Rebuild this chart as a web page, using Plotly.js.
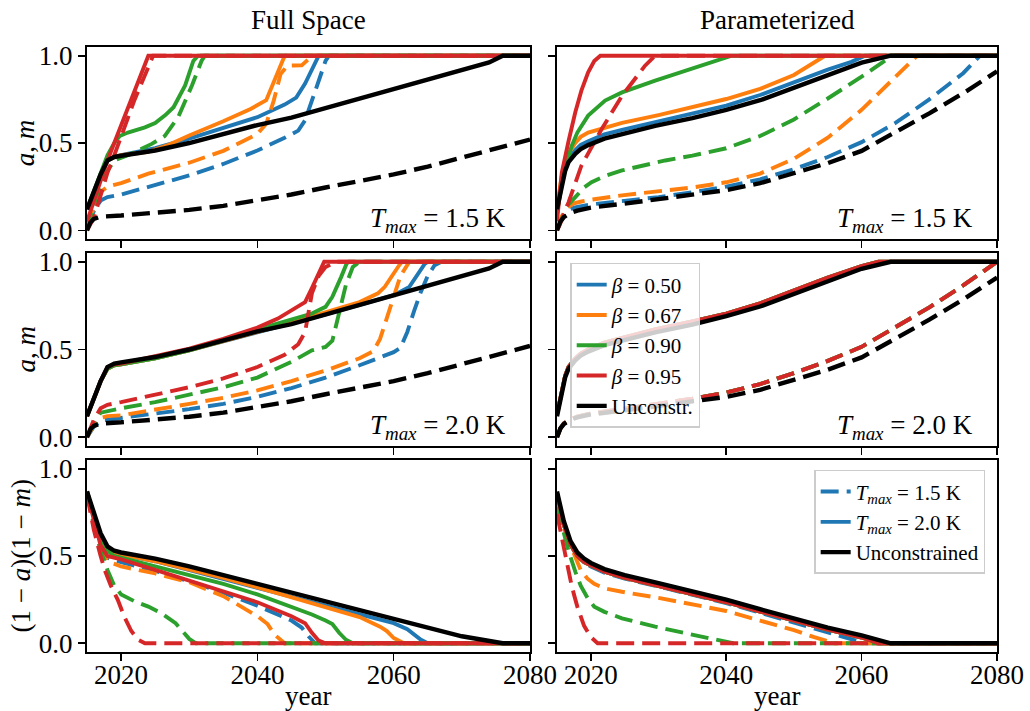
<!DOCTYPE html>
<html>
<head>
<meta charset="utf-8">
<script src="https://cdn.plot.ly/plotly-3.0.1.min.js"></script>
<style>html,body{margin:0;padding:0;background:#fff}#chart{width:1030px;height:711px}</style>
</head>
<body>
<div id="chart"></div>
<script>
// ---------- tick labels / categories ----------
const YEAR_TICKS = [2020, 2040, 2060, 2080];
const VALUE_TICKS = [0, 0.5, 1.0];
const BETA_NAMES = ['<i>β</i> = 0.50', '<i>β</i> = 0.67', '<i>β</i> = 0.90', '<i>β</i> = 0.95'];
const UNC_SHORT = 'Unconstr.';
const TMAX_NAMES = ['<i>T</i><sub><i>max</i></sub> = 1.5 K', '<i>T</i><sub><i>max</i></sub> = 2.0 K', 'Unconstrained'];
const PANEL_TEXTS = ['<i>T</i><sub><i>max</i></sub> = 1.5 K', '<i>T</i><sub><i>max</i></sub> = 2.0 K'];
const COLUMN_TITLES = ['Full Space', 'Parameterized'];

// ---------- Full Space: unconstrained ----------
const FS_UNC_A = [[2015,0.12],[2016,0.22],[2017,0.32],[2018,0.4],[2019,0.42],[2020,0.427],[2025,0.457],[2030,0.5],[2035,0.55],[2040,0.603],[2045,0.645],[2050,0.7],[2055,0.755],[2060,0.812],[2065,0.868],[2070,0.922],[2074,0.962],[2076,1.0],[2080,1.0]];
const FS_UNC_M = [[2015,0.0],[2015.5,0.045],[2016,0.065],[2017,0.078],[2020,0.085],[2025,0.1],[2030,0.117],[2035,0.14],[2040,0.17],[2045,0.205],[2050,0.245],[2055,0.28],[2060,0.32],[2065,0.365],[2070,0.415],[2075,0.465],[2080,0.52]];
const FS_UNC_R = [[2015,0.87],[2016,0.74],[2017,0.63],[2018,0.555],[2019,0.53],[2020,0.52],[2025,0.485],[2030,0.44],[2035,0.39],[2040,0.34],[2045,0.29],[2050,0.238],[2055,0.185],[2060,0.135],[2065,0.085],[2070,0.04],[2073,0.02],[2076,0.0],[2080,0.0]];

// ---------- Full Space, Tmax = 1.5 K (solid a, dashed m) ----------
const FS15_A_B050 = [[2015,0.12],[2016,0.22],[2017,0.32],[2018,0.4],[2019,0.42],[2020,0.43],[2025,0.47],[2030,0.525],[2035,0.585],[2040,0.648],[2044,0.72],[2045.7,0.76],[2047,0.84],[2048.5,0.97],[2049,1.0],[2080,1.0]];
const FS15_A_B067 = [[2015,0.12],[2016,0.22],[2017,0.32],[2018,0.4],[2019,0.42],[2020,0.43],[2024,0.45],[2027,0.49],[2030,0.543],[2035,0.625],[2039,0.695],[2041.3,0.745],[2042.9,0.895],[2043.9,0.99],[2044.2,1.0],[2080,1.0]];
const FS15_A_B090 = [[2015,0.12],[2016,0.22],[2017,0.33],[2018,0.43],[2019,0.5],[2019.8,0.54],[2021,0.56],[2023.5,0.59],[2025,0.615],[2026.5,0.66],[2027.7,0.705],[2029.4,0.83],[2030.6,0.97],[2031.3,1.0],[2080,1.0]];
const FS15_A_B095 = [[2015,0.05],[2016,0.17],[2017,0.29],[2018,0.4],[2020,0.6],[2022,0.8],[2024,1.0],[2080,1.0]];
const FS15_M_B050 = [[2015,0.02],[2016,0.11],[2017,0.17],[2018,0.19],[2020,0.205],[2024,0.248],[2030,0.314],[2035,0.38],[2040,0.457],[2044,0.53],[2046,0.571],[2047,0.63],[2048.5,0.8],[2050,0.97],[2050.5,1.0],[2080,1.0]];
const FS15_M_B067 = [[2015,0.02],[2016,0.13],[2017,0.22],[2018,0.25],[2020,0.27],[2024,0.324],[2030,0.387],[2035,0.455],[2040,0.552],[2041.3,0.61],[2042.4,0.743],[2043.4,0.895],[2044.4,0.943],[2046.5,0.945],[2047.5,0.98],[2048.5,1.0],[2080,1.0]];
const FS15_M_B090 = [[2015,0.0],[2016,0.12],[2017,0.25],[2018,0.34],[2019,0.4],[2021,0.43],[2024.5,0.495],[2026.4,0.54],[2028.4,0.65],[2030.4,0.83],[2031.8,0.97],[2032.3,1.0],[2080,1.0]];
const FS15_M_B095 = [[2015,0.0],[2016,0.07],[2017,0.2],[2018,0.33],[2019,0.43],[2020,0.535],[2022,0.75],[2024.7,1.0],[2080,1.0]];

// ---------- Full Space, Tmax = 2.0 K ----------
const FS20_A_B050 = [[2015,0.12],[2016,0.22],[2017,0.32],[2018,0.39],[2019,0.41],[2020,0.415],[2025,0.45],[2030,0.495],[2035,0.545],[2040,0.6],[2045,0.65],[2050,0.7],[2055,0.755],[2060,0.81],[2062.3,0.857],[2063.3,0.914],[2064.6,0.99],[2065,1.0],[2080,1.0]];
const FS20_A_B067 = [[2015,0.12],[2016,0.22],[2017,0.32],[2018,0.39],[2019,0.41],[2020,0.415],[2025,0.45],[2030,0.495],[2035,0.545],[2040,0.6],[2045,0.655],[2050,0.71],[2055,0.77],[2057.7,0.82],[2058.7,0.857],[2060.8,0.98],[2061.2,1.0],[2080,1.0]];
const FS20_A_B090 = [[2015,0.12],[2016,0.22],[2017,0.32],[2018,0.39],[2019,0.41],[2020,0.415],[2025,0.45],[2030,0.495],[2035,0.55],[2040,0.615],[2045,0.67],[2048,0.705],[2050,0.743],[2051,0.8],[2052.3,0.914],[2053.1,0.99],[2053.4,1.0],[2080,1.0]];
const FS20_A_B095 = [[2015,0.12],[2016,0.22],[2017,0.32],[2018,0.4],[2019,0.415],[2020,0.42],[2025,0.46],[2030,0.505],[2035,0.56],[2040,0.625],[2043,0.676],[2045.4,0.733],[2047,0.77],[2048,0.85],[2049.8,1.0],[2080,1.0]];
const FS20_M_B050 = [[2015,0.0],[2016,0.06],[2017,0.095],[2018,0.1],[2020,0.105],[2025,0.13],[2030,0.16],[2035,0.19],[2040,0.23],[2045,0.28],[2050,0.34],[2055,0.41],[2060,0.485],[2061,0.51],[2062,0.6],[2063,0.72],[2064,0.83],[2065,0.92],[2066,0.98],[2067,1.0],[2080,1.0]];
const FS20_M_B067 = [[2015,0.0],[2016,0.07],[2017,0.11],[2018,0.12],[2020,0.125],[2025,0.155],[2030,0.19],[2035,0.225],[2040,0.267],[2045,0.32],[2050,0.38],[2055,0.45],[2057,0.49],[2058,0.56],[2059,0.68],[2060,0.8],[2061,0.92],[2062.3,1.0],[2080,1.0]];
const FS20_M_B090 = [[2015,0.0],[2016,0.08],[2017,0.14],[2018,0.15],[2020,0.165],[2025,0.2],[2030,0.24],[2035,0.285],[2040,0.34],[2045,0.43],[2048,0.495],[2050,0.515],[2051,0.55],[2052,0.7],[2053,0.87],[2054,0.97],[2055,1.0],[2080,1.0]];
const FS20_M_B095 = [[2015,0.0],[2016,0.1],[2017,0.165],[2018,0.185],[2020,0.2],[2025,0.24],[2030,0.285],[2035,0.335],[2040,0.4],[2044,0.47],[2046,0.53],[2047,0.6],[2048,0.82],[2049,0.92],[2050,0.97],[2051.5,1.0],[2080,1.0]];

// ---------- Full Space, (1-a)(1-m): dashed 1.5 K, solid 2.0 K ----------
const FS_R15_B050 = [[2015,0.86],[2016,0.7],[2017,0.57],[2018,0.49],[2020,0.465],[2025,0.415],[2030,0.355],[2035,0.29],[2040,0.215],[2045,0.13],[2046.5,0.09],[2047.5,0.04],[2048.5,0.0],[2080,0.0]];
const FS_R15_B067 = [[2015,0.86],[2016,0.7],[2017,0.56],[2018,0.47],[2020,0.44],[2025,0.4],[2030,0.35],[2035,0.27],[2040,0.155],[2041.5,0.11],[2042.5,0.05],[2044,0.0],[2080,0.0]];
const FS_R15_B090 = [[2015,0.86],[2016,0.68],[2017,0.53],[2018,0.42],[2019,0.33],[2020,0.28],[2022,0.24],[2024,0.21],[2026,0.17],[2028,0.115],[2029,0.07],[2030,0.025],[2031,0.0],[2080,0.0]];
const FS_R15_B095 = [[2015,0.85],[2016,0.65],[2017,0.5],[2017.6,0.42],[2018.5,0.33],[2019.5,0.25],[2020.5,0.15],[2021.5,0.07],[2022.5,0.02],[2023.5,0.0],[2080,0.0]];
const FS_R20_B050 = [[2015,0.87],[2016,0.73],[2017,0.62],[2018,0.545],[2019,0.52],[2020,0.51],[2025,0.47],[2030,0.42],[2035,0.37],[2040,0.32],[2045,0.27],[2050,0.22],[2055,0.165],[2060,0.115],[2062,0.08],[2063,0.05],[2064,0.02],[2065,0.0],[2080,0.0]];
const FS_R20_B067 = [[2015,0.87],[2016,0.73],[2017,0.62],[2018,0.545],[2019,0.52],[2020,0.51],[2025,0.47],[2030,0.425],[2035,0.375],[2040,0.32],[2045,0.265],[2050,0.21],[2055,0.15],[2058,0.095],[2059,0.07],[2060,0.03],[2061,0.01],[2061.5,0.0],[2080,0.0]];
const FS_R20_B090 = [[2015,0.87],[2016,0.72],[2017,0.6],[2018,0.53],[2019,0.5],[2020,0.49],[2025,0.445],[2030,0.395],[2035,0.34],[2040,0.28],[2045,0.21],[2048,0.165],[2050,0.13],[2051,0.11],[2052,0.06],[2053,0.02],[2054,0.0],[2080,0.0]];
const FS_R20_B095 = [[2015,0.86],[2016,0.7],[2017,0.56],[2018,0.5],[2020,0.48],[2025,0.42],[2030,0.36],[2035,0.3],[2040,0.235],[2045,0.155],[2047,0.115],[2048,0.06],[2049,0.015],[2050,0.0],[2080,0.0]];

// ---------- Parameterized: unconstrained ----------
const PR_UNC_A = [[2015,0.12],[2015.3,0.18],[2015.7,0.26],[2016.2,0.34],[2016.7,0.39],[2017.7,0.438],[2018.5,0.465],[2019.6,0.488],[2022,0.525],[2024.6,0.552],[2029.5,0.598],[2035,0.642],[2040,0.69],[2045,0.745],[2050,0.815],[2055,0.89],[2060,0.96],[2064.3,1.0],[2080,1.0]];
const PR_UNC_M = [[2015,0.0],[2015.5,0.05],[2016,0.075],[2017,0.1],[2018,0.113],[2020,0.13],[2025,0.153],[2030,0.177],[2035,0.2],[2040,0.23],[2045,0.27],[2050,0.325],[2055,0.385],[2060,0.455],[2065,0.56],[2070,0.67],[2075,0.785],[2080,0.91]];
const PR_UNC_R = [[2015,0.87],[2015.5,0.78],[2016,0.7],[2017,0.585],[2018,0.52],[2019,0.485],[2020,0.46],[2022,0.425],[2025,0.39],[2030,0.345],[2035,0.3],[2040,0.25],[2045,0.195],[2050,0.14],[2055,0.09],[2060,0.045],[2064.3,0.0],[2080,0.0]];

// ---------- Parameterized, Tmax = 1.5 K ----------
const PR15_A_B050 = [[2015,0.13],[2015.3,0.2],[2015.7,0.28],[2016.2,0.36],[2016.7,0.41],[2017.7,0.46],[2018.5,0.49],[2019.6,0.51],[2022,0.55],[2024.6,0.575],[2029.5,0.62],[2035,0.665],[2040,0.714],[2045,0.775],[2050,0.85],[2055,0.92],[2058.5,0.965],[2060.5,1.0],[2080,1.0]];
const PR15_A_B067 = [[2015,0.14],[2015.3,0.22],[2015.7,0.31],[2016.2,0.39],[2016.7,0.44],[2017.7,0.5],[2018.5,0.535],[2019.6,0.56],[2022.1,0.59],[2024.6,0.615],[2030,0.66],[2035,0.705],[2040,0.752],[2045,0.81],[2050,0.89],[2054.6,1.0],[2080,1.0]];
const PR15_A_B090 = [[2015,0.1],[2015.7,0.26],[2016.5,0.4],[2017.2,0.486],[2018,0.56],[2019.6,0.657],[2022.1,0.743],[2024.6,0.79],[2029.5,0.857],[2034,0.915],[2038.3,0.97],[2040.8,1.0],[2080,1.0]];
const PR15_A_B095 = [[2015,0.05],[2015.7,0.33],[2016.7,0.51],[2017.7,0.676],[2018.6,0.8],[2019.6,0.905],[2020.5,0.97],[2021.4,1.0],[2080,1.0]];
const PR15_M_B050 = [[2015,0.0],[2015.7,0.07],[2016.5,0.11],[2017.5,0.13],[2020,0.148],[2025,0.168],[2030,0.19],[2035,0.218],[2040,0.25],[2045,0.292],[2050,0.35],[2055,0.42],[2060,0.505],[2065,0.615],[2070,0.75],[2075,0.9],[2077,0.98],[2077.5,1.0],[2080,1.0]];
const PR15_M_B067 = [[2015,0.0],[2015.7,0.08],[2016.5,0.13],[2017.5,0.155],[2018.6,0.165],[2020,0.175],[2024.6,0.2],[2030,0.222],[2035,0.245],[2040,0.275],[2045,0.325],[2050,0.41],[2055,0.53],[2060,0.69],[2065,0.88],[2068.2,1.0],[2080,1.0]];
const PR15_M_B090 = [[2015,0.0],[2015.7,0.067],[2016.5,0.14],[2017.7,0.19],[2019,0.245],[2020.1,0.276],[2022,0.31],[2024.6,0.343],[2028,0.375],[2031,0.4],[2035,0.428],[2040,0.47],[2045,0.54],[2050,0.635],[2055,0.755],[2060,0.88],[2064.5,1.0],[2080,1.0]];
const PR15_M_B095 = [[2015,0.0],[2015.4,0.03],[2016.7,0.16],[2018.6,0.37],[2021.6,0.58],[2024.6,0.77],[2028,0.943],[2029.2,0.99],[2029.5,1.0],[2080,1.0]];

// ---------- Parameterized, Tmax = 2.0 K (all beta lines nearly coincide) ----------
const PR20_A_BETA = [[2015,0.13],[2015.3,0.19],[2015.7,0.27],[2016.2,0.35],[2016.7,0.4],[2017.7,0.45],[2018.5,0.477],[2019.6,0.5],[2022,0.54],[2024.6,0.567],[2029.5,0.615],[2035,0.66],[2040,0.705],[2045,0.763],[2050,0.835],[2055,0.91],[2060,0.975],[2062.5,1.0],[2080,1.0]];
const PR20_M_BETA = [[2015,0.0],[2015.5,0.05],[2016,0.078],[2017,0.103],[2018,0.117],[2020,0.135],[2025,0.162],[2030,0.19],[2035,0.22],[2040,0.255],[2045,0.303],[2050,0.365],[2055,0.435],[2060,0.515],[2065,0.625],[2070,0.74],[2075,0.865],[2079.3,0.98],[2080,1.0]];

// ---------- Parameterized, (1-a)(1-m) ----------
const PR_R15_B050 = [[2015,0.84],[2015.5,0.76],[2016,0.68],[2017,0.57],[2018,0.5],[2019,0.465],[2020,0.44],[2022,0.405],[2025,0.37],[2030,0.325],[2035,0.28],[2040,0.23],[2045,0.175],[2050,0.12],[2055,0.065],[2058,0.03],[2060.5,0.0],[2080,0.0]];
const PR_R15_B067 = [[2015,0.8],[2015.5,0.73],[2016,0.66],[2017,0.56],[2017.7,0.49],[2018.5,0.42],[2019.5,0.37],[2020.5,0.34],[2022,0.315],[2024.6,0.295],[2030,0.26],[2035,0.225],[2040,0.185],[2045,0.13],[2050,0.075],[2053,0.035],[2056,0.0],[2080,0.0]];
const PR_R15_B090 = [[2015,0.78],[2015.5,0.7],[2016,0.62],[2016.7,0.53],[2017.7,0.41],[2018.5,0.33],[2019.5,0.26],[2020.5,0.21],[2022,0.18],[2024.6,0.143],[2029.5,0.095],[2035,0.05],[2038,0.025],[2041,0.0],[2080,0.0]];
const PR_R15_B095 = [[2015,0.74],[2015.5,0.64],[2016,0.55],[2016.5,0.45],[2017,0.36],[2017.5,0.28],[2018,0.21],[2019,0.1],[2020,0.035],[2021,0.0],[2080,0.0]];
const PR_R20_BETA = [[2015,0.86],[2015.5,0.76],[2016,0.68],[2017,0.565],[2018,0.5],[2019,0.465],[2020,0.445],[2022,0.41],[2025,0.375],[2030,0.33],[2035,0.285],[2040,0.235],[2045,0.182],[2050,0.128],[2055,0.078],[2060,0.033],[2062.5,0.0],[2080,0.0]];

// ---------- styles ----------
const COLORS = ['#1f77b4', '#ff7f0e', '#2ca02c', '#d62728'];
const BLACK = '#000000';
const DASH = '18px,8px';
const LW = 3.9;
const FONT = 'Liberation Serif, DejaVu Serif, serif';

const PANELS = [
  {xa:'x',  ya:'y',  dashed:[FS15_M_B050,FS15_M_B067,FS15_M_B090,FS15_M_B095], solid:[FS15_A_B050,FS15_A_B067,FS15_A_B090,FS15_A_B095], uncD:FS_UNC_M, uncS:FS_UNC_A},
  {xa:'x2', ya:'y2', dashed:[PR15_M_B050,PR15_M_B067,PR15_M_B090,PR15_M_B095], solid:[PR15_A_B050,PR15_A_B067,PR15_A_B090,PR15_A_B095], uncD:PR_UNC_M, uncS:PR_UNC_A},
  {xa:'x3', ya:'y3', dashed:[FS20_M_B050,FS20_M_B067,FS20_M_B090,FS20_M_B095], solid:[FS20_A_B050,FS20_A_B067,FS20_A_B090,FS20_A_B095], uncD:FS_UNC_M, uncS:FS_UNC_A},
  {xa:'x4', ya:'y4', dashed:[PR20_M_BETA,PR20_M_BETA,PR20_M_BETA,PR20_M_BETA], solid:[PR20_A_BETA,PR20_A_BETA,PR20_A_BETA,PR20_A_BETA], uncD:PR_UNC_M, uncS:PR_UNC_A, legendSolid:true},
  {xa:'x5', ya:'y5', dashed:[FS_R15_B050,FS_R15_B067,FS_R15_B090,FS_R15_B095], solid:[FS_R20_B050,FS_R20_B067,FS_R20_B090,FS_R20_B095], uncD:null, uncS:FS_UNC_R},
  {xa:'x6', ya:'y6', dashed:[PR_R15_B050,PR_R15_B067,PR_R15_B090,PR_R15_B095], solid:[PR_R20_BETA,PR_R20_BETA,PR_R20_BETA,PR_R20_BETA], uncD:null, uncS:PR_UNC_R, legend2:true}
];

function mk(data, color, dash, xa, ya, width){
  return {x:data.map(p=>p[0]), y:data.map(p=>p[1]), type:'scatter', mode:'lines',
    xaxis:xa, yaxis:ya, line:{color:color, width:width||LW, dash:dash||'solid'},
    showlegend:false, hoverinfo:'skip'};
}

const traces = [];
PANELS.forEach(p => {
  for (let i = 0; i < 4; i++) {
    const d = mk(p.dashed[i], COLORS[i], DASH, p.xa, p.ya);
    if (p.legend2 && i === 0) { d.showlegend = true; d.legend = 'legend2'; d.name = TMAX_NAMES[0]; }
    traces.push(d);
    const s = mk(p.solid[i], COLORS[i], 'solid', p.xa, p.ya);
    if (p.legendSolid) { s.showlegend = true; s.legend = 'legend'; s.name = BETA_NAMES[i]; }
    if (p.legend2 && i === 0) { s.showlegend = true; s.legend = 'legend2'; s.name = TMAX_NAMES[1]; }
    traces.push(s);
  }
  if (p.uncD) traces.push(mk(p.uncD, BLACK, DASH, p.xa, p.ya, 4.4));
  const u = mk(p.uncS, BLACK, 'solid', p.xa, p.ya, 4.4);
  if (p.legendSolid) { u.showlegend = true; u.legend = 'legend'; u.name = UNC_SHORT; }
  if (p.legend2) { u.showlegend = true; u.legend = 'legend2'; u.name = TMAX_NAMES[2]; }
  traces.push(u);
});

const XDOM = [[0, 0.4868], [0.5165, 1]];
const YDOM = [[0.6826, 1], [0.3405, 0.6595], [0, 0.3174]];
const tickFont = {family: FONT, size: 27, color: '#000'};

const layout = {
  width: 1030, height: 711,
  margin: {l: 87, r: 33, t: 47, b: 59},
  paper_bgcolor: '#fff', plot_bgcolor: '#fff',
  font: {family: FONT, color: '#000'},
  annotations: [],
  legend: {x: 0.531, y: 0.643, xanchor: 'left', yanchor: 'top', bgcolor: 'rgba(255,255,255,0.8)',
    bordercolor: '#cccccc', borderwidth: 1.5, font: {family: FONT, size: 21, color: '#000'}, traceorder: 'normal', tracegroupgap: 0},
  legend2: {x: 0.987, y: 0.301, xanchor: 'right', yanchor: 'top', bgcolor: 'rgba(255,255,255,0.8)',
    bordercolor: '#cccccc', borderwidth: 1.5, font: {family: FONT, size: 21, color: '#000'}, traceorder: 'normal', tracegroupgap: 0}
};

for (let r = 0; r < 3; r++) {
  for (let c = 0; c < 2; c++) {
    const k = r * 2 + c + 1;
    const xn = k === 1 ? 'xaxis' : 'xaxis' + k;
    const yn = k === 1 ? 'yaxis' : 'yaxis' + k;
    layout[xn] = {domain: XDOM[c], anchor: k === 1 ? 'y' : 'y' + k, range: [2015, 2080],
      tickvals: YEAR_TICKS, ticks: 'outside', ticklen: 7, tickwidth: 1.6, tickcolor: '#000',
      showline: true, linecolor: '#000', linewidth: 2, mirror: true, showgrid: false, zeroline: false,
      showticklabels: r === 2, tickfont: tickFont, ticklabelstandoff: -9};
    layout[yn] = {domain: YDOM[r], anchor: k === 1 ? 'x' : 'x' + k, range: [-0.05, 1.05],
      tickvals: VALUE_TICKS, tickformat: '.1f', ticks: 'outside', ticklen: 7, tickwidth: 1.6, tickcolor: '#000',
      showline: true, linecolor: '#000', linewidth: 2, mirror: true, showgrid: false, zeroline: false,
      showticklabels: c === 0, tickfont: tickFont};
    if (r < 2) {
      layout.annotations.push({xref: (k === 1 ? 'x' : 'x' + k) + ' domain', yref: (k === 1 ? 'y' : 'y' + k) + ' domain',
        x: 0.95, y: 0.1, xanchor: 'right', yanchor: 'middle', showarrow: false,
        text: PANEL_TEXTS[r], font: {family: FONT, size: 27, color: '#000'}});
    }
  }
}
COLUMN_TITLES.forEach((t, c) => {
  layout.annotations.push({xref: 'paper', yref: 'paper', x: (XDOM[c][0] + XDOM[c][1]) / 2, y: 1.045,
    xanchor: 'center', yanchor: 'middle', showarrow: false, text: t, font: {family: FONT, size: 27, color: '#000'}});
  layout.annotations.push({xref: 'paper', yref: 'paper', x: (XDOM[c][0] + XDOM[c][1]) / 2, y: -0.072,
    xanchor: 'center', yanchor: 'middle', showarrow: false, text: 'year', font: {family: FONT, size: 27, color: '#000'}});
});
const YLABELS = ['<i>a</i>, <i>m</i>', '<i>a</i>, <i>m</i>', '(1 − <i>a</i>)(1 − <i>m</i>)'];
YLABELS.forEach((t, r) => {
  layout.annotations.push({xref: 'paper', yref: 'paper', x: r === 2 ? -0.072 : -0.068, y: (YDOM[r][0] + YDOM[r][1]) / 2,
    xanchor: 'center', yanchor: 'middle', textangle: -90, showarrow: false, text: t,
    font: {family: FONT, size: 27, color: '#000'}});
});

Plotly.newPlot('chart', traces, layout, {displayModeBar: false, staticPlot: true});
</script>
</body>
</html>
